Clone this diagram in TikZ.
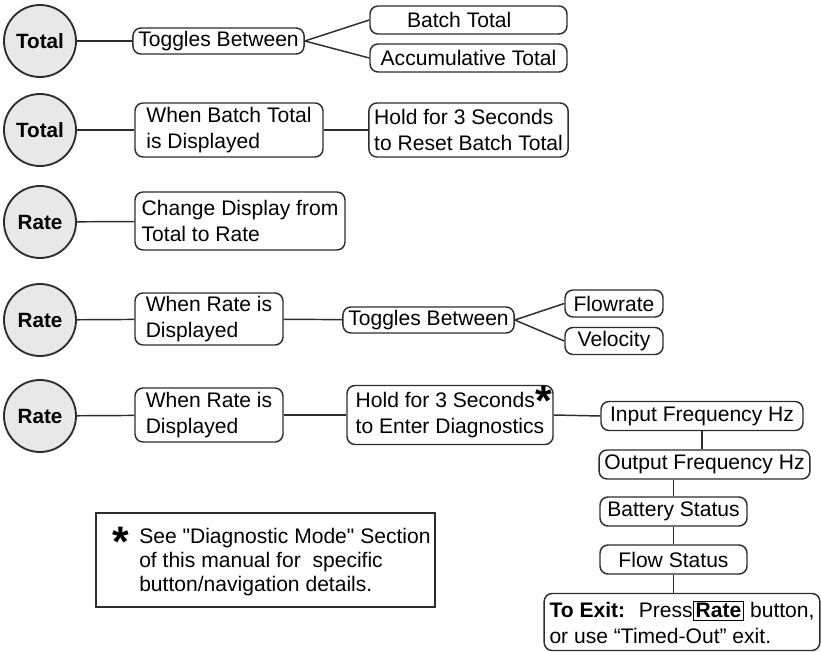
\documentclass[tikz,border=0pt]{standalone}
\usepackage{fontspec}
\setmainfont{Liberation Sans}[Ligatures=TeXOff]
\usepackage{tikz}
\definecolor{mygray}{RGB}{232, 232, 232}
\definecolor{myline}{RGB}{45, 45, 45}
\tikzset{>=latex}
\tikzset{
  btn/.style = {circle, draw = myline, fill = mygray, line width = 1.4pt, minimum size = 54pt, inner sep = 0pt, font = \fontsize{15.5}{18}\selectfont\bfseries},
  box/.style = {draw = myline, rounded corners = 6pt, line width = 1.1pt, align = left, inner xsep = 4pt, inner ysep = 1pt, font = \fontsize{15.8}{19}\selectfont},
  conn/.style = {myline, line width = 1.1pt}
}
\newcommand{\bigstar}{\raisebox{-6pt}[0pt][0pt]{\fontsize{32}{32}\selectfont\bfseries *}}

\begin{document}
\begin{tikzpicture}[x = 0.75pt, y = -0.75pt]
\useasboundingbox (0, 0) rectangle (821, 652);
% row 1
\node[btn] (tot1) at (40, 41) {Total};
\node[box, minimum width = 125.25pt, minimum height = 19.5pt] (tog1) at (218.5, 41) {Toggles Between};
\node[box, minimum width = 147.75pt, minimum height = 21pt] (bat1) at (468.5, 20) {Batch Total\hspace{14pt}};
\node[box, minimum width = 147.75pt, minimum height = 21pt] (acc1) at (468.5, 58) {Accumulative Total};
\draw[conn] (tot1) -- (tog1);
\draw[conn] (tog1.east) -- (bat1.west);
\draw[conn] (tog1.east) -- (acc1.west);
% row 2
\node[btn] (tot2) at (40, 130) {Total};
\node[box, minimum width = 141pt, minimum height = 40.5pt] (disp2) at (229, 130) {When Batch Total\\is Displayed};
\node[box, minimum width = 147.75pt, minimum height = 40.5pt] (hold2) at (468.5, 130) {Hold for 3 Seconds\\to Reset Batch Total};
\draw[conn] (tot2) -- (disp2);
\draw[conn] (disp2) -- (hold2);
% row 3
\node[btn] (rate3) at (40, 222) {Rate};
\node[box, minimum width = 157.5pt, minimum height = 43.5pt] (chg3) at (240, 221) {Change Display from\\Total to Rate};
\draw[conn] (rate3) -- (chg3);
% row 4
\node[btn] (rate4) at (40, 320) {Rate};
\node[box, minimum width = 111pt, minimum height = 39pt] (disp4) at (209, 319) {When Rate is\\Displayed};
\node[box, minimum width = 122.25pt, minimum height = 19.5pt] (tog4) at (428.5, 320) {Toggles Between};
\node[box, minimum width = 73.5pt, minimum height = 20.25pt] (flw4) at (614, 303.5) {Flowrate};
\node[box, minimum width = 73.5pt, minimum height = 20.25pt] (vel4) at (614, 341) {Velocity};
\draw[conn] (rate4) -- (disp4);
\draw[conn] (disp4) -- (tog4);
\draw[conn] (tog4.east) -- (flw4.west);
\draw[conn] (tog4.east) -- (vel4.west);
% row 5
\node[btn] (rate5) at (40, 416) {Rate};
\node[box, minimum width = 111pt, minimum height = 40.5pt] (disp5) at (209, 415) {When Rate is\\Displayed};
\node[box, minimum width = 154.5pt, minimum height = 44.25pt] (hold5) at (450, 415) {Hold for 3 Seconds\rlap{\kern0.5pt\bigstar}\\to Enter Diagnostics};
\node[box, minimum width = 151.5pt, minimum height = 21.75pt] (inp) at (702, 416) {Input Frequency Hz};
\node[box, minimum width = 156.75pt, minimum height = 21.75pt] (outp) at (704.5, 464.5) {Output Frequency Hz};
\node[box, minimum width = 110.25pt, minimum height = 21.75pt] (batt) at (673.5, 511.5) {Battery Status};
\node[box, minimum width = 110.25pt, minimum height = 21.75pt] (fstat) at (673.5, 559.5) {Flow Status};
\node[box, minimum width = 205.5pt, minimum height = 42.75pt] (exit) at (682, 622) {\textbf{To Exit:}~ Press{\setlength\fboxsep{1.2pt}\setlength\fboxrule{1pt}\fbox{\textbf{Rate}}} button,\\or use “Timed-Out” exit.};
\draw[conn] (rate5) -- (disp5);
\draw[conn] (disp5) -- (hold5);
\draw[conn] (hold5.east) -- (inp.west);
\draw[conn] (inp.south) -- (inp.south |- outp.north);
\draw[conn] (batt.north) -- (batt.north |- outp.south);
\draw[conn] (batt.south) -- (fstat.north);
\draw[conn] (fstat.south) -- (fstat.south |- exit.north);
% note
\node[draw = myline, line width = 1.4pt, minimum width = 254.25pt, minimum height = 70.5pt] (note) at (265.5, 560) {};
\node[anchor = north west, align = left, inner sep = 0pt, font = \fontsize{15.8}{18}\selectfont] (notetxt) at (139, 528) {See "Diagnostic Mode" Section\\of this manual for ~specific\\button/navigation details.};
\node[inner sep = 0pt] (notestar) at (121, 548) {\bigstar};
\end{tikzpicture}
\end{document}
